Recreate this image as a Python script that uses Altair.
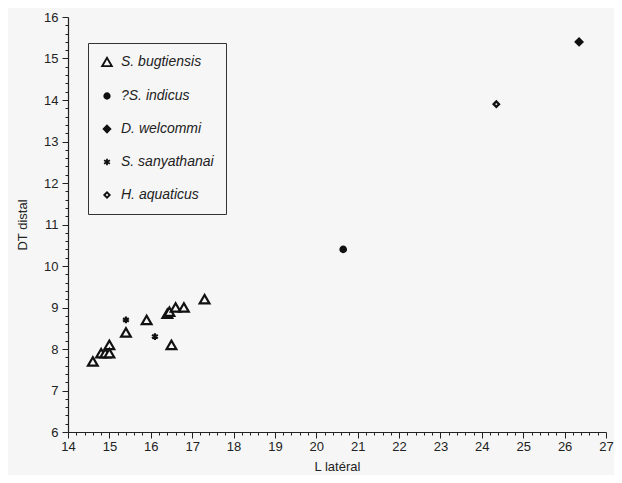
import altair as alt
import pandas as pd

# ---- data ----
bug_x = [14.6, 14.8, 14.9, 15.0, 15.0, 15.4, 15.9, 16.4, 16.45, 16.6, 16.8, 16.5, 17.3]
bug_y = [7.7, 7.9, 7.9, 8.1, 7.9, 8.4, 8.7, 8.85, 8.9, 9.0, 9.0, 8.1, 9.2]
ind_x = [20.65]
ind_y = [10.4]
wel_x = [26.35]
wel_y = [15.4]
san_x = [15.4, 16.1]
san_y = [8.7, 8.3]
aqu_x = [24.35]
aqu_y = [13.9]

species = ["S. bugtiensis", "?S. indicus", "D. welcommi", "S. sanyathanai", "H. aquaticus"]

rows = []
for name, xs, ys in [
    (species[0], bug_x, bug_y),
    (species[1], ind_x, ind_y),
    (species[2], wel_x, wel_y),
    (species[3], san_x, san_y),
    (species[4], aqu_x, aqu_y),
]:
    for a, b in zip(xs, ys):
        rows.append({"species": name, "L": a, "DT": b})
df = pd.DataFrame(rows)

x_ticks = [round(14 + 0.2 * i, 1) for i in range(66)]
y_ticks = [round(6 + 0.2 * i, 1) for i in range(51)]

BG = "#f6f6f6"
INK = "#222222"
FONT = "Liberation Sans"
asterisk = "M0,-1L0,1M-0.87,-0.5L0.87,0.5M-0.87,0.5L0.87,-0.5"

is_major = "abs(datum.value - round(datum.value)) < 0.01"
label_expr = f"{is_major} ? format(datum.value, 'd') : ''"

x_axis = alt.Axis(
    values=x_ticks,
    labelExpr=label_expr,
    tickSize={"condition": {"test": is_major, "value": 6}, "value": 3},
    labelOverlap=False,
    labelFlush=False,
    grid=False,
    title="L latéral",
    labelPadding=2,
    titlePadding=7,
)
y_axis = alt.Axis(
    values=y_ticks,
    labelExpr=label_expr,
    tickSize={"condition": {"test": is_major, "value": 6}, "value": 3},
    labelOverlap=False,
    labelFlush=False,
    grid=False,
    title="DT distal",
    labelPadding=4,
    titlePadding=14,
)

legend = alt.Legend(
    title=None,
    orient="none",
    legendX=20,
    legendY=26,
    padding=12,
    strokeColor="#333333",
    fillColor=BG,
    symbolStrokeWidth=1.8,
    labelFontStyle="italic",
    labelFontSize=14,
    labelFont=FONT,
    labelColor=INK,
    labelOffset=7,
    rowPadding=19,
)

chart = (
    alt.Chart(df)
    .mark_point(filled=False, opacity=1, strokeWidth=2.2)
    .encode(
        x=alt.X("L:Q", scale=alt.Scale(domain=[14, 27], nice=False, zero=False), axis=x_axis),
        y=alt.Y("DT:Q", scale=alt.Scale(domain=[6, 16], nice=False, zero=False), axis=y_axis),
        shape=alt.Shape(
            "species:N",
            scale=alt.Scale(domain=species, range=["triangle-up", "circle", "diamond", asterisk, "diamond"]),
            legend=legend,
        ),
        fill=alt.Fill(
            "species:N",
            scale=alt.Scale(domain=species, range=[BG, "#111111", "#111111", "#111111", BG]),
            legend=legend,
        ),
        stroke=alt.Stroke(
            "species:N",
            scale=alt.Scale(domain=species, range=["#111111"] * 5),
            legend=legend,
        ),
        size=alt.Size(
            "species:N",
            scale=alt.Scale(type="ordinal", domain=species, range=[95, 30, 45, 45, 30]),
            legend=legend,
        ),
    )
    .properties(
        width=538,
        height=415,
        autosize=alt.AutoSizeParams(type="none"),
        padding={"left": 60, "top": 9, "right": 8, "bottom": 43},
        background=BG,
    )
    .configure_view(stroke=None, fill=BG)
    .configure_axis(
        labelFont=FONT,
        titleFont=FONT,
        labelFontSize=13,
        titleFontSize=13,
        titleFontWeight="normal",
        labelColor=INK,
        titleColor=INK,
        domainColor=INK,
        tickColor=INK,
        domainWidth=1.2,
        tickWidth=1,
    )
)

chart.save("out.html", embed_options={"renderer": "svg", "actions": False})
